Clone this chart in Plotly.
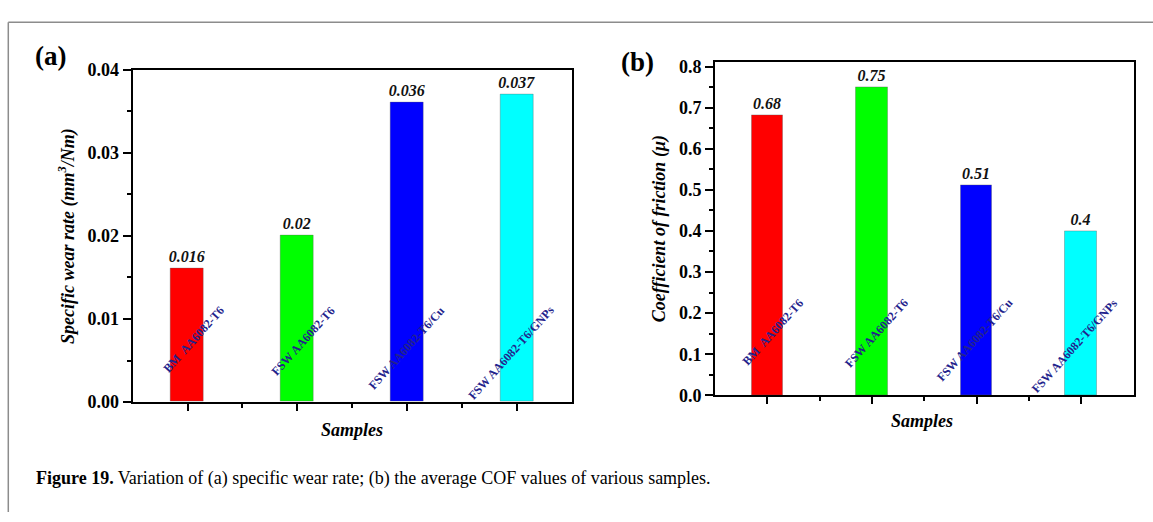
import plotly.graph_objects as go

# ---------------- data ----------------
samples = ["BM\u00a0 AA6082-T6", "FSW AA6082-T6", "FSW AA6082-T6/Cu", "FSW AA6082-T6/GNPs"]
wear_rate = [0.016, 0.02, 0.036, 0.037]
wear_labels = ["0.016", "0.02", "0.036", "0.037"]
cof = [0.68, 0.75, 0.51, 0.4]
cof_labels = ["0.68", "0.75", "0.51", "0.4"]
bar_colors = ["#ff0000", "#00ff00", "#0000ff", "#00ffff"]
wear_tickvals = [0.0, 0.01, 0.02, 0.03, 0.04]
wear_ticktext = ["0.00", "0.01", "0.02", "0.03", "0.04"]
wear_minor = [0.005, 0.015, 0.025, 0.035]
cof_tickvals = [0.0, 0.1, 0.2, 0.3, 0.4, 0.5, 0.6, 0.7, 0.8]
cof_ticktext = ["0.0", "0.1", "0.2", "0.3", "0.4", "0.5", "0.6", "0.7", "0.8"]
cof_minor = [0.05, 0.15, 0.25, 0.35, 0.45, 0.55, 0.65, 0.75]
wear_title = "Specific wear rate (mm<sup>3</sup>/Nm)"
cof_title = "Coefficient of friction (\u03bc)"
x_title = "Samples"
caption = "<b>Figure 19.</b> Variation of (a) specific wear rate; (b) the average COF values of various samples."

W, H = 1153, 522
SERIF = "Liberation Serif, Times New Roman, serif"
NAVY = "#23238c"

def px(x):
    return x / W

def py(y):
    return 1 - y / H

idx = list(range(len(samples)))

fig = go.Figure()

for xa, ya, vals, labs in (("x", "y", wear_rate, wear_labels), ("x2", "y2", cof, cof_labels)):
    fig.add_trace(go.Bar(
        x=idx, y=vals, width=0.3, xaxis=xa, yaxis=ya,
        marker=dict(color=bar_colors, line=dict(color="rgba(90,90,90,0.35)", width=1)),
        text=labs, textposition="outside", constraintext="none", cliponaxis=False,
        textfont=dict(family=SERIF, size=16, color="#111111", style="italic", weight="bold"),
        showlegend=False, hoverinfo="skip",
    ))

common_x = dict(
    range=[-0.5, 3.5], tickmode="array", tickvals=idx, showticklabels=False,
    ticks="outside", ticklen=7, tickwidth=2, tickcolor="black",
    minor=dict(tickmode="array", tickvals=[0.5, 1.5, 2.5], ticks="outside", ticklen=4, tickwidth=2, tickcolor="black"),
    showline=True, linewidth=2, linecolor="black", mirror=True,
    showgrid=False, zeroline=False, fixedrange=True,
)
common_y = dict(
    ticks="outside", ticklen=8, tickwidth=2, tickcolor="black",
    showline=True, linewidth=2, linecolor="black", mirror=True,
    showgrid=False, zeroline=False, fixedrange=True,
    tickfont=dict(family=SERIF, size=18, color="black", weight="bold"),
)

fig.update_layout(
    width=W, height=H, margin=dict(l=0, r=0, t=0, b=0),
    paper_bgcolor="white", plot_bgcolor="white",
    bargap=0,
    xaxis=dict(domain=[px(132.7), px(571.6)], anchor="y", **common_x),
    yaxis=dict(domain=[py(407.7), py(62)], anchor="x", range=[0, 0.04],
               tickmode="array", tickvals=wear_tickvals, ticktext=wear_ticktext,
               minor=dict(tickmode="array", tickvals=wear_minor, ticks="outside", ticklen=4, tickwidth=2, tickcolor="black"),
               **common_y),
    xaxis2=dict(domain=[px(715), px(1133.5)], anchor="y2", **common_x),
    yaxis2=dict(domain=[py(400.7), py(54.5)], anchor="x2", range=[0, 0.81],
                tickmode="array", tickvals=cof_tickvals, ticktext=cof_ticktext,
                minor=dict(tickmode="array", tickvals=cof_minor, ticks="outside", ticklen=4, tickwidth=2, tickcolor="black"),
                **common_y),
)

ann = []
# panel letters
ann.append(dict(text="<b>(a)</b>", x=px(33), y=py(48), xref="paper", yref="paper",
                xanchor="left", yanchor="middle", showarrow=False,
                font=dict(family=SERIF, size=27, color="black")))
ann.append(dict(text="<b>(b)</b>", x=px(619), y=py(54), xref="paper", yref="paper",
                xanchor="left", yanchor="middle", showarrow=False,
                font=dict(family=SERIF, size=27, color="black")))
# axis titles
ttl_font = dict(family=SERIF, size=18, color="black", style="italic", weight="bold")
ann.append(dict(text=wear_title, x=px(67), y=py(235), xref="paper", yref="paper",
                textangle=-90, xanchor="center", yanchor="middle", showarrow=False, font=ttl_font))
ann.append(dict(text=cof_title, x=px(659), y=py(228), xref="paper", yref="paper",
                textangle=-90, xanchor="center", yanchor="middle", showarrow=False, font=ttl_font))
ann.append(dict(text=x_title, x=px(352), y=py(437), xref="paper", yref="paper",
                xanchor="center", yanchor="middle", showarrow=False, font=ttl_font))
ann.append(dict(text=x_title, x=px(922), y=py(427), xref="paper", yref="paper",
                xanchor="center", yanchor="middle", showarrow=False, font=ttl_font))
# rotated category labels inside plots
lab_font = dict(family=SERIF, size=12, color=NAVY, weight="bold")
for i, s in enumerate(samples):
    ann.append(dict(text=s, x=i + 0.39, y=0.0122, xref="x", yref="y",
                    xanchor="right", yanchor="top", textangle=-48, showarrow=False, font=lab_font))
    ann.append(dict(text=s, x=i + 0.40, y=0.248, xref="x2", yref="y2",
                    xanchor="right", yanchor="top", textangle=-48, showarrow=False, font=lab_font))
# caption
ann.append(dict(text=caption, x=px(34), y=py(487), xref="paper", yref="paper",
                xanchor="left", yanchor="middle", showarrow=False,
                font=dict(family=SERIF, size=18, color="black")))
fig.update_layout(annotations=ann)

# outer frame lines
frame = dict(color="#8c8c8c", width=1.5)
fig.add_shape(type="line", xref="paper", yref="paper", x0=px(8.3), x1=1, y0=py(12.7), y1=py(12.7), line=frame)
fig.add_shape(type="line", xref="paper", yref="paper", x0=px(8.3), x1=px(8.3), y0=py(12.7), y1=0, line=frame)

fig.write_html("out.html")
